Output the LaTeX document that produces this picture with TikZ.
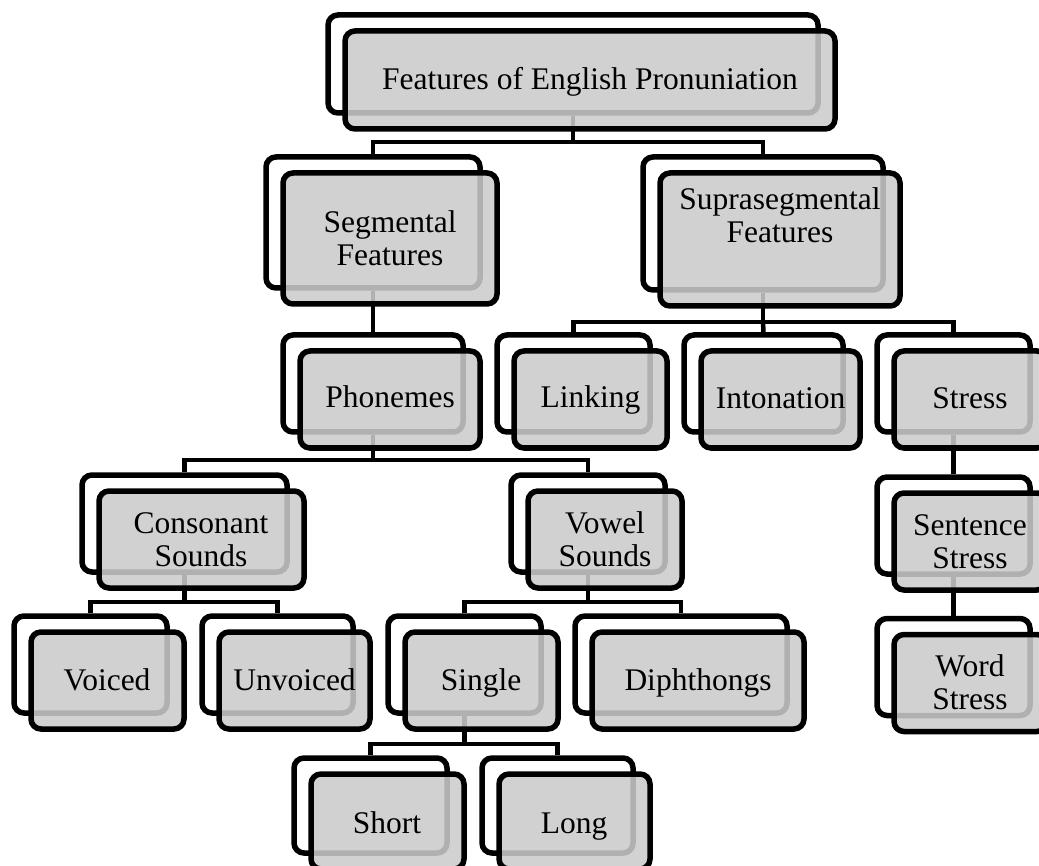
\documentclass[tikz,border=0pt]{standalone}
\usepackage{fontspec}
\setmainfont{Liberation Serif}
\usetikzlibrary{backgrounds}
\definecolor{fgray}{RGB}{203,203,203}
\newcommand\boxpair[5]{%
  \node[backbox, minimum width=#4pt, minimum height=#5pt] (b#1) at (#2,#3) {};
  \node[frontbox, minimum width=#4pt, minimum height=#5pt] (f#1) at ({#2+17},{#3+16}) {};
}
\begin{document}
\begin{tikzpicture}[x=1pt,y=-1pt,
  backbox/.style={draw=black, line width=5.5pt, rounded corners=10pt, fill=white, inner sep=0pt},
  frontbox/.style={draw=black, line width=5.5pt, rounded corners=10pt, fill=fgray, fill opacity=0.87, draw opacity=1, inner sep=0pt},
  conn/.style={draw=black, line width=4.5pt},
  lbl/.style={anchor=base, align=center, inner sep=0pt, text=black, font=\fontsize{31.5}{33}\selectfont}]
\useasboundingbox (0,0) rectangle (1039,866);
\clip (0,0) rectangle (1039,866);

% boxes: name, back centre x, back centre y, width, height
\boxpair{Top}{573}{64}{490}{98}
\boxpair{Seg}{373}{222.5}{214}{131}
\boxpair{Sup}{763}{223.5}{240}{133}
\boxpair{Pho}{373}{383.5}{180}{97}
\boxpair{Lin}{573.5}{383.5}{153}{97}
\boxpair{Int}{763.5}{383.5}{159}{97}
\boxpair{Str}{953.5}{383.5}{153}{97}
\boxpair{Con}{184.5}{523.5}{205}{97}
\boxpair{Vow}{588}{523.5}{154}{97}
\boxpair{Sen}{953.5}{525.5}{153}{97}
\boxpair{Voi}{90.5}{664.5}{153}{97}
\boxpair{Unv}{277.5}{664.5}{151}{97}
\boxpair{Sin}{464.5}{664.5}{153}{97}
\boxpair{Dip}{681}{664.5}{212}{97}
\boxpair{Wor}{953.5}{667}{153}{97}
\boxpair{Sho}{370.5}{805.5}{153}{95}
\boxpair{Lon}{557.5}{805.5}{151}{95}

% junctions
\coordinate (jTop) at (573,142);
\coordinate (jSup) at (763,322);
\coordinate (jPho) at (373,460);
\coordinate (jCon) at (184.5,602);
\coordinate (jVow) at (588,602);
\coordinate (jSin) at (464.5,744);

\begin{pgfonlayer}{background}
\draw[conn] (bTop.south) -- (jTop) -| (bSeg.north);
\draw[conn] (jTop) -| (bSup.north);
\draw[conn] (bSeg.south) -- (bPho.north);
\draw[conn] (bSup.south) -- (jSup) -| (bLin.north);
\draw[conn] (jSup) -- (bInt.north);
\draw[conn] (jSup) -| (bStr.north);
\draw[conn] (bPho.south) -- (jPho) -| (bCon.north);
\draw[conn] (jPho) -| (bVow.north);
\draw[conn] (bStr.south) -- (bSen.north);
\draw[conn] (bSen.south) -- (bWor.north);
\draw[conn] (bCon.south) -- (jCon) -| (bVoi.north);
\draw[conn] (jCon) -| (bUnv.north);
\draw[conn] (bVow.south) -- (jVow) -| (bSin.north);
\draw[conn] (jVow) -| (bDip.north);
\draw[conn] (bSin.south) -- (jSin) -| (bSho.north);
\draw[conn] (jSin) -| (bLon.north);
\end{pgfonlayer}

% labels (anchored at last baseline)
\node[lbl] (tTop) at (590,90) {Features of English Pronuniation};
\node[lbl] (tSeg) at (390,266) {Segmental\\Features};
\node[lbl] (tSup) at (780,243) {Suprasegmental\\Features};
\node[lbl] (tPho) at (390,408) {Phonemes};
\node[lbl] (tLin) at (590.5,408) {Linking};
\node[lbl] (tInt) at (780.5,409) {Intonation};
\node[lbl] (tStr) at (970,409) {Stress};
\node[lbl] (tCon) at (201,566) {Consonant\\Sounds};
\node[lbl] (tVow) at (605,566) {Vowel\\Sounds};
\node[lbl] (tSen) at (970,568) {Sentence\\Stress};
\node[lbl] (tVoi) at (107,690) {Voiced};
\node[lbl] (tUnv) at (294.5,690) {Unvoiced};
\node[lbl] (tSin) at (481,690) {Single};
\node[lbl] (tDip) at (698,690) {Diphthongs};
\node[lbl] (tWor) at (970,709) {Word\\Stress};
\node[lbl] (tSho) at (387,833) {Short};
\node[lbl] (tLon) at (574,833) {Long};
\end{tikzpicture}
\end{document}
